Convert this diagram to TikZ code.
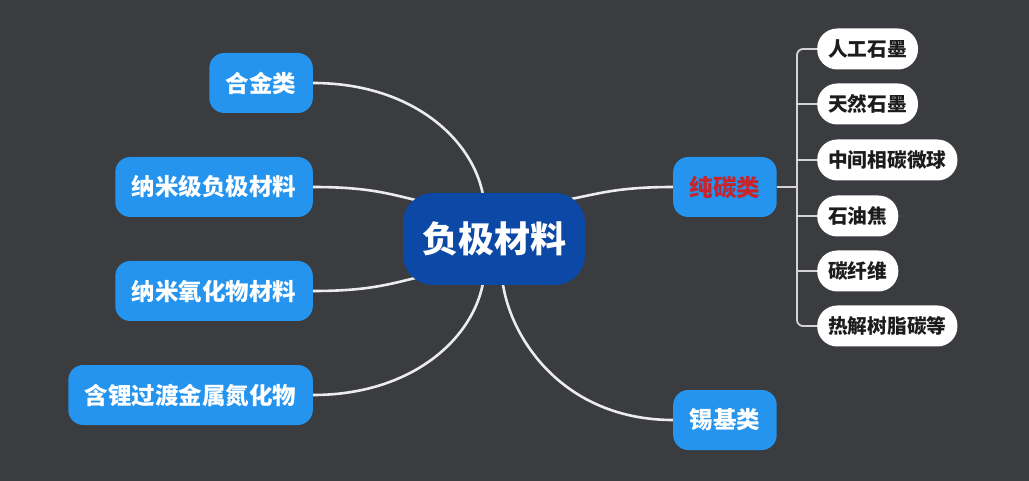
\documentclass[tikz,border=0pt]{standalone}
\usepackage{fontspec}
\setmainfont{Noto Sans CJK SC}
\usetikzlibrary{calc}
\definecolor{bgc}{RGB}{58,60,64}
\definecolor{lblue}{RGB}{36,148,238}
\definecolor{dblue}{RGB}{12,72,165}
\definecolor{redt}{RGB}{200,36,44}
\definecolor{linec}{RGB}{236,236,236}
\definecolor{leaft}{RGB}{28,28,28}
\pgfdeclarelayer{lines}
\pgfsetlayers{lines,main}
\tikzset{
  mainbox/.style={fill=dblue, rounded corners=30pt, minimum width=182pt, minimum height=92pt, inner sep=0pt, text=white, font=\bfseries\fontsize{36}{40}\selectfont},
  subbox/.style={fill=lblue, rounded corners=15pt, minimum height=60pt, inner xsep=16.5pt, inner ysep=0pt, text=white, font=\bfseries\fontsize{23.5}{28}\selectfont},
  leafbox/.style={fill=white, rounded corners=20pt, minimum height=41pt, inner xsep=11pt, inner ysep=0pt, text=leaft, anchor=west, font=\bfseries\fontsize{19.7}{24}\selectfont},
  conn/.style={draw=linec, line width=2.6pt},
  tree/.style={draw=linec!90!black, line width=1.8pt},
}
\begin{document}
\begin{tikzpicture}[x=1pt,y=-1pt]
\useasboundingbox (0,0) rectangle (1029,481);
\node[mainbox] (c) at (494,239) {负极材料};
\node[subbox, anchor=east] (a1) at (313,83) {合金类};
\node[subbox, anchor=east] (a2) at (313,187) {纳米级负极材料};
\node[subbox, anchor=east] (a3) at (313,291) {纳米氧化物材料};
\node[subbox, anchor=east] (a4) at (313,395) {含锂过渡金属氮化物};
\node[subbox, anchor=west, text=redt] (b1) at (673,187) {纯碳类};
\node[subbox, anchor=west] (b2) at (673,420) {锡基类};
\node[leafbox] (l1) at (817,49) {人工石墨};
\node[leafbox] (l2) at (817,104) {天然石墨};
\node[leafbox] (l3) at (817,160) {中间相碳微球};
\node[leafbox] (l4) at (817,216) {石油焦};
\node[leafbox] (l5) at (817,271) {碳纤维};
\node[leafbox] (l6) at (817,326) {热解树脂碳等};
\begin{pgfonlayer}{lines}
\fill[bgc] (0,0) rectangle (1029,481);
\draw[conn] (a1.east) .. controls +(100,0) and +(-8,-60) .. ($(c.north)+(-10,8)$);
\draw[conn] (a2.east) .. controls +(60,0) and +(-35,-8) .. ($(c.west)+(25,-36)$);
\draw[conn] (a3.east) .. controls +(60,0) and +(-35,8) .. ($(c.west)+(25,36)$);
\draw[conn] (a4.east) .. controls +(100,0) and +(-8,60) .. ($(c.south)+(-10,-8)$);
\draw[conn] (b1.west) .. controls +(-60,0) and +(35,-6) .. ($(c.east)+(-25,-38)$);
\draw[conn] (b2.west) .. controls +(-110,0) and +(6,60) .. ($(c.south)+(8,-8)$);
\coordinate (tj) at (797,187);
\draw[tree] (b1.east) -- (tj);
\draw[tree, rounded corners=6pt] (l1.west) -| (tj) |- (l6.west);
\foreach \n in {l2,l3,l4,l5} \draw[tree] (\n.west) -- (tj |- \n.west);
\end{pgfonlayer}
\end{tikzpicture}
\end{document}
